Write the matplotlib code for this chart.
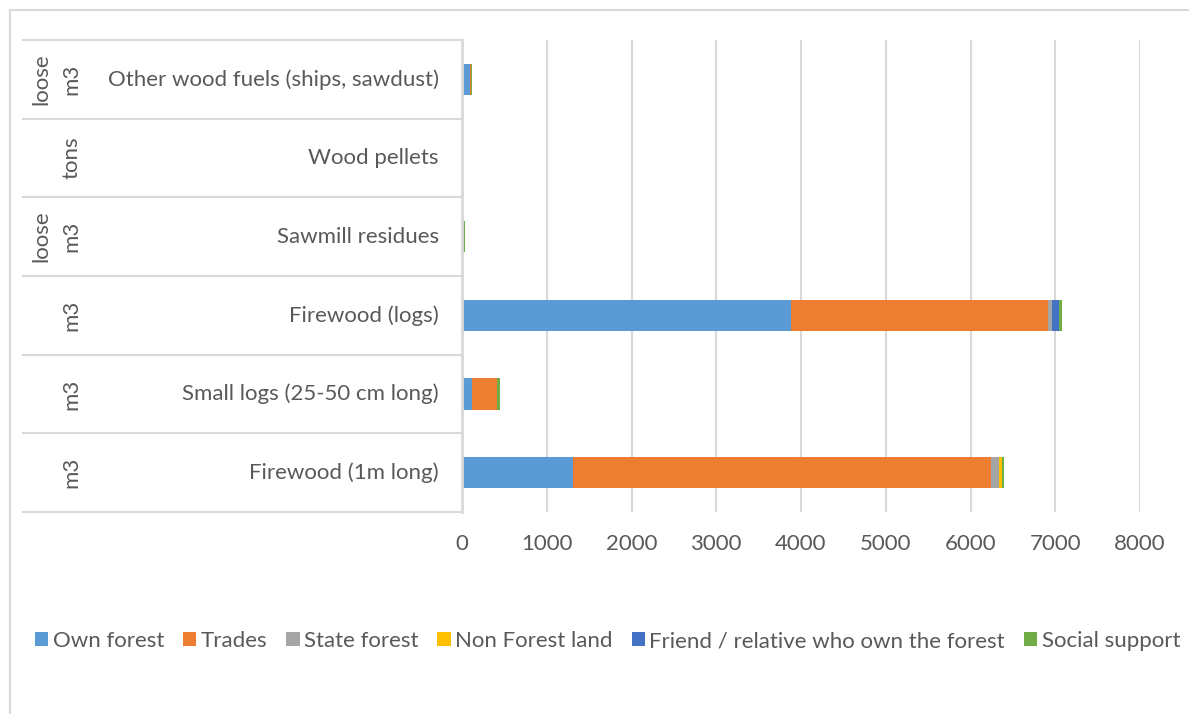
import numpy as np
import matplotlib
matplotlib.use('Agg')
import matplotlib.pyplot as plt
from matplotlib.patches import Rectangle
import matplotlib.transforms as mtrans

plt.rcParams['font.family'] = ['Lato', 'DejaVu Sans']

# categories bottom -> top
categories = ['Firewood (1m long)', 'Small logs (25-50 cm long)', 'Firewood (logs)',
              'Sawmill residues', 'Wood pellets', 'Other wood fuels (ships, sawdust)']
units = ['m3', 'm3', 'm3', 'loose m3', 'tons', 'loose m3']

series = ['Own forest', 'Trades', 'State forest', 'Non Forest land',
          'Friend / relative who own the forest', 'Social support']
own_forest = [1314, 114, 3884, 18, 0, 98]
trades     = [4928, 303, 3031, 0, 3, 12]
state      = [98, 0, 51, 0, 0, 0]
non_forest = [30, 0, 0, 0, 0, 0]
friend     = [0, 0, 79, 0, 0, 0]
social     = [24, 28, 30, 16, 0, 3]
colors = ['#5B9BD5', '#ED7D31', '#A5A5A5', '#FFC000', '#4472C4', '#70AD47']

grid_c = '#D9D9D9'
txt_c = '#595959'
fs = 16

fig = plt.figure(figsize=(11.89, 7.14), dpi=100)
ax = fig.add_axes([462/1189, 1-512/714, (1140-462)/1189, (512-40)/714])

y = np.arange(len(categories))
left = np.zeros(len(categories))
for name, vals, c in zip(series, [own_forest, trades, state, non_forest, friend, social], colors):
    ax.barh(y, vals, left=left, height=0.4, color=c, label=name)
    left += np.array(vals)

ax.set_xlim(0, 8000)
ax.set_ylim(-0.5, len(categories) - 0.5)
ax.set_xticks(np.arange(0, 8001, 1000))
ax.set_yticks([])
ax.xaxis.grid(True, color=grid_c, lw=1.5)
ax.set_axisbelow(True)
for s in ['top', 'right', 'bottom']:
    ax.spines[s].set_visible(False)
ax.spines['left'].set_color(grid_c)
ax.spines['left'].set_linewidth(2)
ax.tick_params(axis='x', length=0, pad=16, labelsize=fs, labelcolor=txt_c)

# category box lines and labels
trans = mtrans.blended_transform_factory(ax.transAxes, ax.transData)
x0 = (23 - 462) / (1140 - 462)
for b in np.arange(-0.5, len(categories), 1.0):
    ax.plot([x0, 0], [b, b], color=grid_c, lw=1.5, transform=trans, clip_on=False)
for i, (cat, u) in enumerate(zip(categories, units)):
    ax.text(-0.034, i, cat, transform=trans, ha='right', va='center',
            fontsize=fs, color=txt_c)
    words = u.split()
    xs = [71, 41]
    for w, xp in zip(words[::-1], xs):
        ax.text((xp - 462) / (1140 - 462), i, w, transform=trans, ha='center',
                va='center', rotation=90, fontsize=fs, color=txt_c)

leg = fig.legend(loc='center', bbox_to_anchor=(0.511, 1 - 641/714), ncol=6,
                 frameon=False, fontsize=fs, handlelength=0.6, handleheight=0.6,
                 handletextpad=0.2, columnspacing=0.85)
for t in leg.get_texts():
    t.set_color(txt_c)

# outer chart border (cropped)
fig.patches.append(Rectangle((10/1189, -0.1), 1.2, 1.1 - 10/714, transform=fig.transFigure,
                             fill=False, edgecolor=grid_c, lw=1.5))

fig.savefig('out.png', dpi=100)
